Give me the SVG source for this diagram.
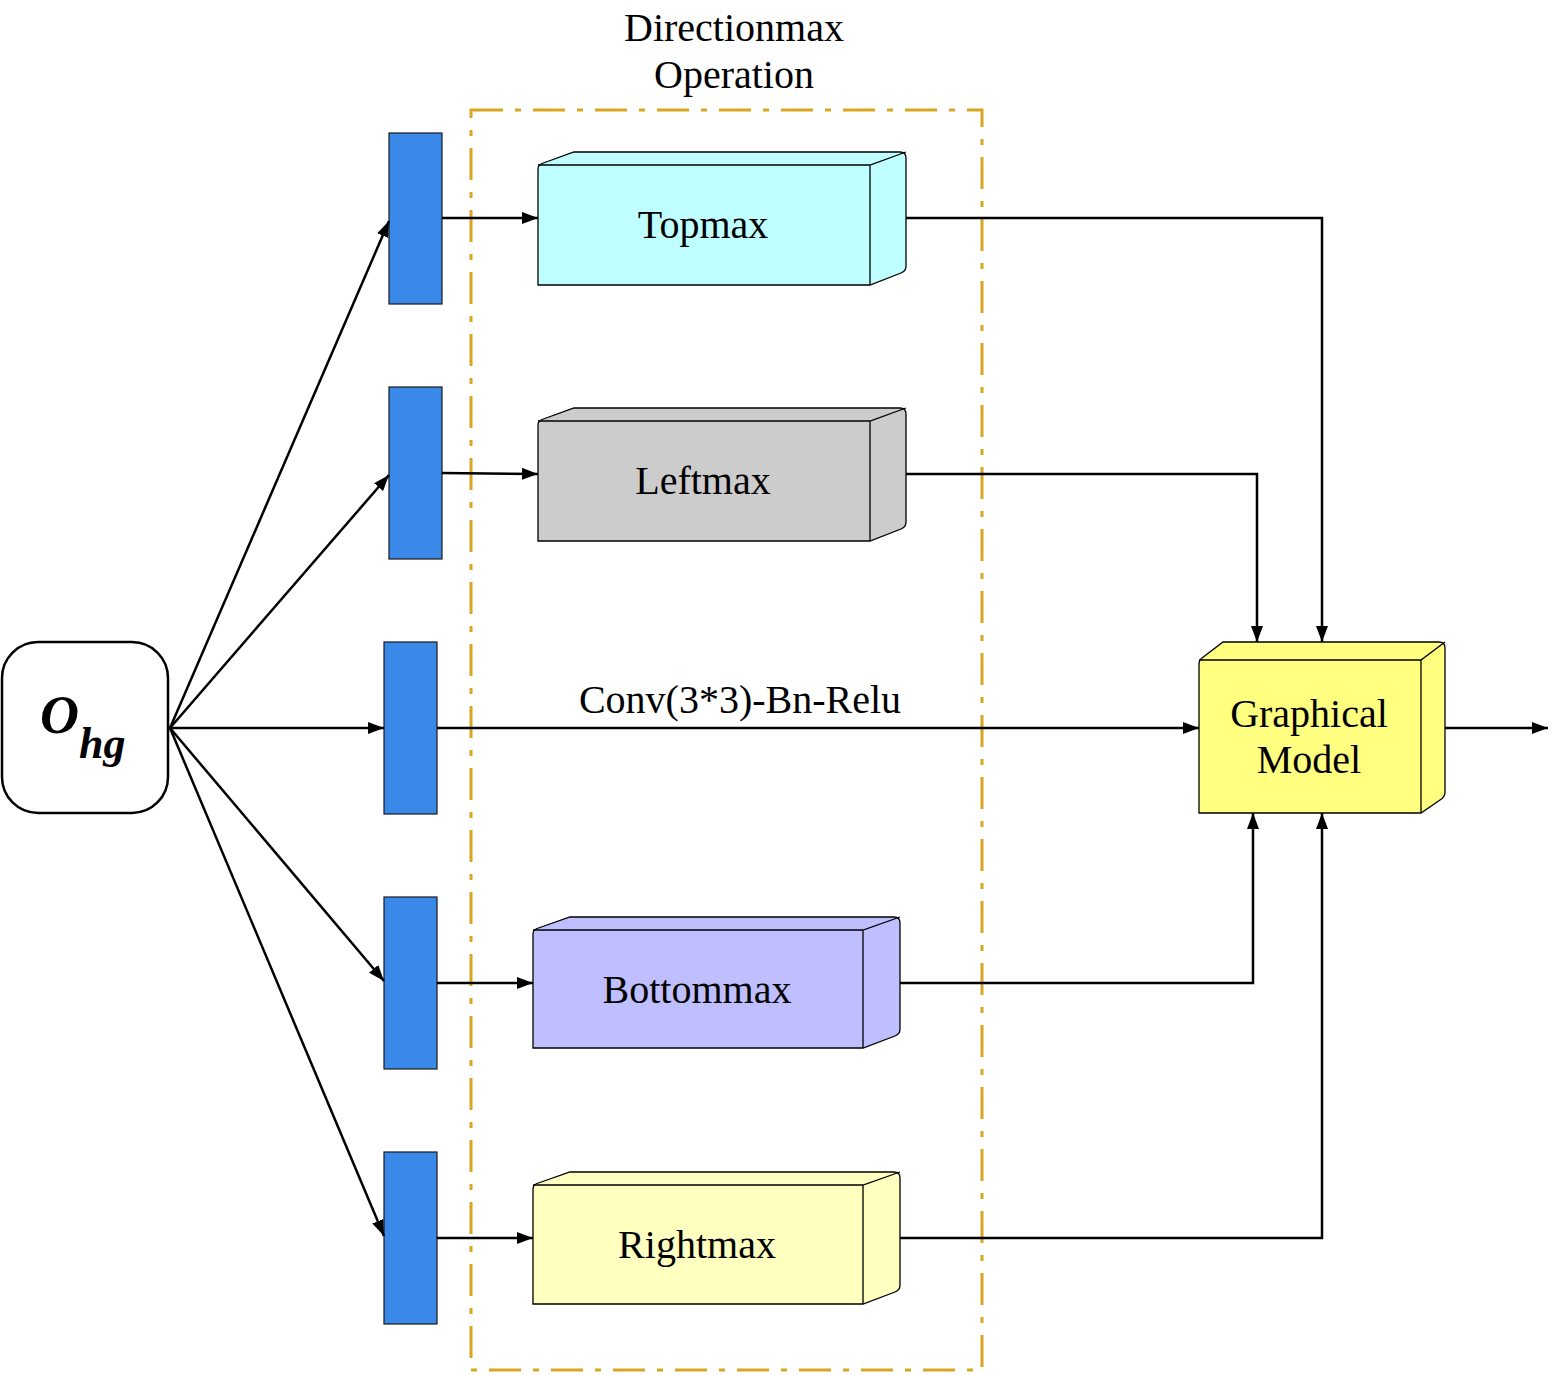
<svg xmlns="http://www.w3.org/2000/svg" width="1559" height="1374" viewBox="0 0 1559 1374">
<style>
.t{font-family:"Liberation Serif","Times New Roman",serif;fill:#000;text-anchor:middle}
.ln{fill:none;stroke:#000;stroke-width:2.5}
.bar{fill:#3A88E8;stroke:#1a1a1a;stroke-width:1.2}
.bx{stroke:#000;stroke-width:1.3}
.in{fill:none;stroke:#000;stroke-width:1.3}
</style>
<defs>
<marker id="ah" markerUnits="userSpaceOnUse" markerWidth="18" markerHeight="14" refX="16" refY="6" orient="auto">
<path d="M0,0 L16,6 L0,12 Z" fill="#000"/>
</marker>
</defs>
<rect width="1559" height="1374" fill="#fff"/>

<g id="group-frame">
<rect x="471" y="110" width="511" height="1260" fill="none" stroke="#DAA520" stroke-width="3" stroke-dasharray="32 12 6 12"/>
<text class="t" x="734" y="41" font-size="40">Directionmax</text>
<text class="t" x="734" y="88" font-size="40">Operation</text>
</g>

<g id="node-ohg">
<rect x="2" y="642" width="166" height="171" rx="36" ry="36" fill="#fff" stroke="#000" stroke-width="2.5"/>
<text font-family="Liberation Serif,Times New Roman,serif" font-style="italic" font-weight="bold"><tspan x="40" y="733" font-size="54">O</tspan><tspan x="79" y="758" font-size="44">hg</tspan></text>
</g>

<g id="node-bars">
<rect class="bar" x="389" y="133" width="53" height="171"/>
<rect class="bar" x="389" y="387" width="53" height="172"/>
<rect class="bar" x="384" y="642" width="53" height="172"/>
<rect class="bar" x="384" y="897" width="53" height="172"/>
<rect class="bar" x="384" y="1152" width="53" height="172"/>
</g>

<g id="node-topmax">
<path class="bx" fill="#BFFFFF" d="M538,169 Q538,165 542,163.5 L574,152 L900,152 Q906,152 906,158 L906,266 Q906,271 901,273 L870,285 L538,285 Z"/>
<path class="in" d="M538,165 L870,165 L906,152 M870,165 L870,285"/>
<text class="t" x="703" y="238" font-size="40">Topmax</text>
</g>

<g id="node-leftmax">
<path class="bx" fill="#CCCCCC" d="M538,425 Q538,421 542,419.5 L574,408 L900,408 Q906,408 906,414 L906,522 Q906,527 901,529 L870,541 L538,541 Z"/>
<path class="in" d="M538,421 L870,421 L906,408 M870,421 L870,541"/>
<text class="t" x="703" y="494" font-size="40">Leftmax</text>
</g>

<g id="node-bottommax">
<path class="bx" fill="#BFBFFF" d="M533,934 Q533,930 537,928.5 L570,917 L894,917 Q900,917 900,923 L900,1029 Q900,1034 895,1036 L863,1048 L533,1048 Z"/>
<path class="in" d="M533,930 L863,930 L900,917 M863,930 L863,1048"/>
<text class="t" x="697" y="1003" font-size="40">Bottommax</text>
</g>

<g id="node-rightmax">
<path class="bx" fill="#FFFFC0" d="M533,1189 Q533,1185 537,1183.5 L570,1172 L894,1172 Q900,1172 900,1178 L900,1285 Q900,1290 895,1292 L863,1304 L533,1304 Z"/>
<path class="in" d="M533,1185 L863,1185 L900,1172 M863,1185 L863,1304"/>
<text class="t" x="697" y="1258" font-size="40">Rightmax</text>
</g>

<g id="node-graphical">
<path class="bx" fill="#FFFF80" d="M1199,664 Q1199,660 1202,658 L1223,642 L1439,642 Q1445,642 1445,648 L1445,792 Q1445,797 1440,800 L1421,813 L1199,813 Z"/>
<path class="in" d="M1199,660 L1421,660 L1445,642 M1421,660 L1421,813"/>
<text class="t" x="1309" y="727" font-size="40">Graphical</text>
<text class="t" x="1309" y="773" font-size="40">Model</text>
</g>

<g id="connectors">
<path class="ln" marker-end="url(#ah)" d="M170,728 L389,221"/>
<path class="ln" marker-end="url(#ah)" d="M170,728 L389,475"/>
<path class="ln" marker-end="url(#ah)" d="M170,728 L384,728"/>
<path class="ln" marker-end="url(#ah)" d="M170,728 L384,981"/>
<path class="ln" marker-end="url(#ah)" d="M170,728 L384,1236"/>
<path class="ln" marker-end="url(#ah)" d="M442,218 L538,218"/>
<path class="ln" marker-end="url(#ah)" d="M442,473 L538,474"/>
<path class="ln" marker-end="url(#ah)" d="M437,728 L1199,728"/>
<path class="ln" marker-end="url(#ah)" d="M437,983 L533,983"/>
<path class="ln" marker-end="url(#ah)" d="M437,1238 L533,1238"/>
<path class="ln" marker-end="url(#ah)" d="M906,218 L1322,218 L1322,642"/>
<path class="ln" marker-end="url(#ah)" d="M906,474 L1257,474 L1257,642"/>
<path class="ln" marker-end="url(#ah)" d="M900,983 L1253,983 L1253,813"/>
<path class="ln" marker-end="url(#ah)" d="M900,1238 L1322,1238 L1322,813"/>
<path class="ln" marker-end="url(#ah)" d="M1445,728 L1548,728"/>
<text class="t" x="740" y="713" font-size="40">Conv(3*3)-Bn-Relu</text>
</g>
</svg>
